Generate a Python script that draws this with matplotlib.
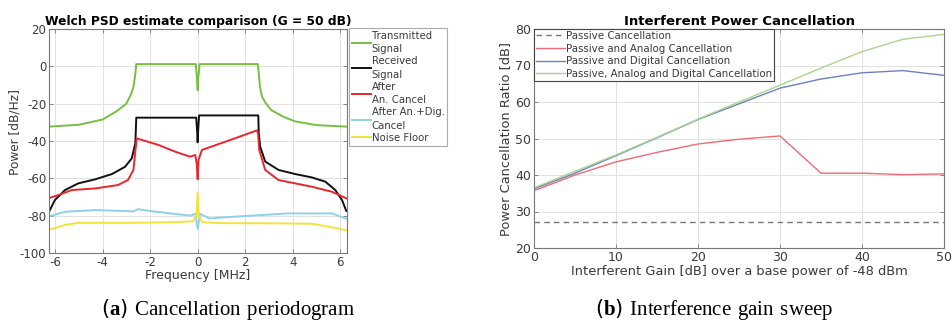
import matplotlib
matplotlib.use("Agg")
import matplotlib.pyplot as plt

plt.rcParams['font.family'] = ['DejaVu Sans']
plt.rcParams['axes.unicode_minus'] = False
plt.rcParams['mathtext.fontset'] = 'custom'
plt.rcParams['mathtext.rm'] = 'Liberation Serif'
plt.rcParams['mathtext.bf'] = 'Liberation Serif:bold'

# ---------------- Left panel data (frequency in MHz, power in dB/Hz) -------------
tx_f = [-6.25, -5.0, -4.0, -3.4, -3.0, -2.8, -2.7, -2.62, -2.58, -1.0, -0.08, -0.03,
        0.0, 0.03, 0.08, 1.0, 2.53, 2.57, 2.62, 2.7, 2.85, 3.1, 3.6, 4.1, 5.0, 6.25]
tx_p = [-32.3, -31.3, -28.5, -24.0, -20.0, -15.0, -11.0, -4.0, 1.2, 1.2, 1.2, -6.0,
        -12.8, -6.0, 1.2, 1.2, 1.2, -4.0, -11.0, -16.0, -19.5, -23.5, -27.0, -29.5,
        -31.5, -32.3]

rx_f = [-6.28, -6.0, -5.58, -5.02, -4.3, -3.6, -3.05, -2.77, -2.62, -2.58, -1.0,
        -0.06, -0.02, 0.0, 0.02, 0.06, 1.0, 2.55, 2.57, 2.63, 2.84, 3.4, 4.1, 4.8,
        5.37, 5.79, 6.07, 6.25]
rx_p = [-78.7, -71.6, -66.3, -62.7, -60.5, -57.7, -53.8, -49.3, -41.2, -27.5, -27.5,
        -27.5, -35.0, -40.7, -35.0, -26.3, -26.3, -26.3, -36.0, -43.0, -51.0, -55.5,
        -57.7, -59.5, -61.8, -66.3, -71.6, -77.5]

an_f = [-6.28, -5.86, -5.3, -4.3, -3.35, -2.93, -2.7, -2.6, -2.56, -1.65, -0.95,
        -0.32, -0.1, -0.04, 0.0, 0.04, 0.18, 1.16, 2.5, 2.54, 2.59, 2.84, 3.4, 4.8,
        5.65, 6.25]
an_p = [-70.7, -69.0, -66.3, -65.4, -63.6, -60.9, -55.5, -43.0, -38.6, -42.1, -45.7,
        -48.4, -47.5, -52.0, -60.5, -50.0, -44.8, -40.4, -34.3, -36.0, -44.8, -55.5,
        -60.9, -64.5, -67.2, -70.7]

dig_f = [-6.28, -5.58, -4.3, -2.7, -2.5, -2.0, -1.0, -0.3, -0.1, 0.0, 0.1, 0.5,
         1.0, 2.0, 3.8, 5.65, 6.25]
dig_p = [-80.5, -77.9, -77.0, -77.7, -76.5, -77.5, -79.0, -80.0, -79.0, -87.0,
         -79.0, -81.5, -81.0, -80.2, -78.8, -78.8, -81.6]

nf_f = [-6.28, -5.58, -5.0, -2.7, -1.0, -0.2, -0.05, 0.0, 0.05, 0.2, 1.0, 3.0,
        4.8, 5.5, 6.25]
nf_p = [-87.7, -85.0, -83.8, -83.8, -83.5, -83.0, -80.0, -67.5, -80.0, -83.5,
        -84.0, -84.1, -84.3, -85.9, -87.8]

left_labels = ['Transmitted\nSignal', 'Received\nSignal', 'After\nAn. Cancel',
               'After An.+Dig.\nCancel', 'Noise Floor']
left_colors = ['#77bf3f', '#111111', '#e8262e', '#8fd0ea', '#f2e33a']

# ---------------- Right panel data -------------------------------------------
gain = [0, 5, 10, 15, 20, 25, 30, 35, 40, 45, 50]
passive = [27.0] * len(gain)
analog = [35.7, 40.0, 43.6, 46.2, 48.5, 49.8, 50.7, 40.5, 40.5, 40.1, 40.3]
digital = [36.2, 40.5, 45.3, 50.2, 55.2, 59.5, 63.8, 66.3, 68.0, 68.6, 67.3]
ana_dig = [36.5, 41.0, 45.5, 50.3, 55.3, 60.0, 64.6, 69.3, 73.8, 77.2, 78.5]
right_labels = ['Passive Cancellation', 'Passive and Analog Cancellation',
                'Passive and Digital Cancellation',
                'Passive, Analog and Digital Cancellation']

W, H = 952, 321
fig = plt.figure(figsize=(W / 100, H / 100), dpi=100)

tick_color = '#3a3a3a'
grid_color = '#e2e2e2'
spine_color = '#777777'


def style(ax, size):
    ax.tick_params(direction='in', length=3, width=0.6, colors=spine_color,
                   labelcolor=tick_color, labelsize=size, top=True, right=True, pad=2)
    for s in ax.spines.values():
        s.set_color(spine_color)
        s.set_linewidth(0.8)
    ax.grid(True, color=grid_color, linewidth=0.7)
    ax.set_axisbelow(True)


# Left axes
axL = fig.add_axes([49 / W, 1 - 253 / H, 298 / W, 224 / H])
series = [(tx_f, tx_p), (rx_f, rx_p), (an_f, an_p), (dig_f, dig_p), (nf_f, nf_p)]
for (f, p), c, lab in zip(series, left_colors, left_labels):
    axL.plot(f, p, color=c, linewidth=1.4, label=lab)
axL.set_xlim(-6.25, 6.28)
axL.set_ylim(-100, 20)
axL.set_xticks([-6, -4, -2, 0, 2, 4, 6])
axL.set_yticks([-100, -80, -60, -40, -20, 0, 20])
style(axL, 8.5)
axL.set_title('Welch PSD estimate comparison (G = 50 dB)', fontsize=8.8,
              fontweight='bold', pad=3)
axL.set_xlabel('Frequency [MHz]', fontsize=9, color=tick_color, labelpad=0)
axL.set_ylabel('Power [dB/Hz]', fontsize=8.7, color=tick_color, labelpad=1)
axL.yaxis.set_label_coords(-0.092, 0.54)
legL = axL.legend(loc='upper left', bbox_to_anchor=(349 / W, 1 - 28 / H),
                  bbox_transform=fig.transFigure, fontsize=7.3, handlelength=1.9,
                  handletextpad=0.1, borderpad=0.25, labelspacing=0.2,
                  fancybox=False, framealpha=1, borderaxespad=0)
legL.get_frame().set_edgecolor('#aaaaaa')
legL.get_frame().set_linewidth(0.8)
for t in legL.get_texts():
    t.set_color(tick_color)
    t.set_linespacing(1.45)

# Right axes
axR = fig.add_axes([534 / W, 1 - 248 / H, 410 / W, 219 / H])
axR.plot(gain, passive, color='#777777', linestyle='--', linewidth=1.0,
         dashes=(4, 3), label=right_labels[0])
axR.plot(gain, analog, color='#ee6b75', linewidth=1.0, label=right_labels[1])
axR.plot(gain, digital, color='#6f7fc4', linewidth=1.0, label=right_labels[2])
axR.plot(gain, ana_dig, color='#a8d68c', linewidth=1.0, label=right_labels[3])
axR.set_xlim(0, 50)
axR.set_ylim(20, 80)
axR.set_xticks([0, 10, 20, 30, 40, 50])
axR.set_yticks([20, 30, 40, 50, 60, 70, 80])
style(axR, 9)
axR.set_title('Interferent Power Cancellation', fontsize=9.5, fontweight='bold', pad=3)
axR.set_xlabel('Interferent Gain [dB] over a base power of -48 dBm', fontsize=9.4,
               color=tick_color, labelpad=1)
axR.set_ylabel('Power Cancellation Ratio [dB]', fontsize=9.4, color=tick_color,
               labelpad=2)
legR = axR.legend(loc='upper left', bbox_to_anchor=(534 / W, 1 - 29 / H),
                  bbox_transform=fig.transFigure, fontsize=7.4, handlelength=2.8,
                  handletextpad=0.1, borderpad=0.2, labelspacing=0.25,
                  fancybox=False, framealpha=1, borderaxespad=0)
legR.get_frame().set_edgecolor('#444444')
legR.get_frame().set_linewidth(0.8)
for t in legR.get_texts():
    t.set_color(tick_color)

# Captions
fig.text(228 / W, 1 - 310 / H, r'($\mathbf{a}$)$\mathrm{\ Cancellation\ periodogram}$',
         ha='center', va='center', fontsize=15)
fig.text(714 / W, 1 - 310 / H, r'($\mathbf{b}$)$\mathrm{\ Interference\ gain\ sweep}$',
         ha='center', va='center', fontsize=15)

fig.savefig('out.png', dpi=100)
